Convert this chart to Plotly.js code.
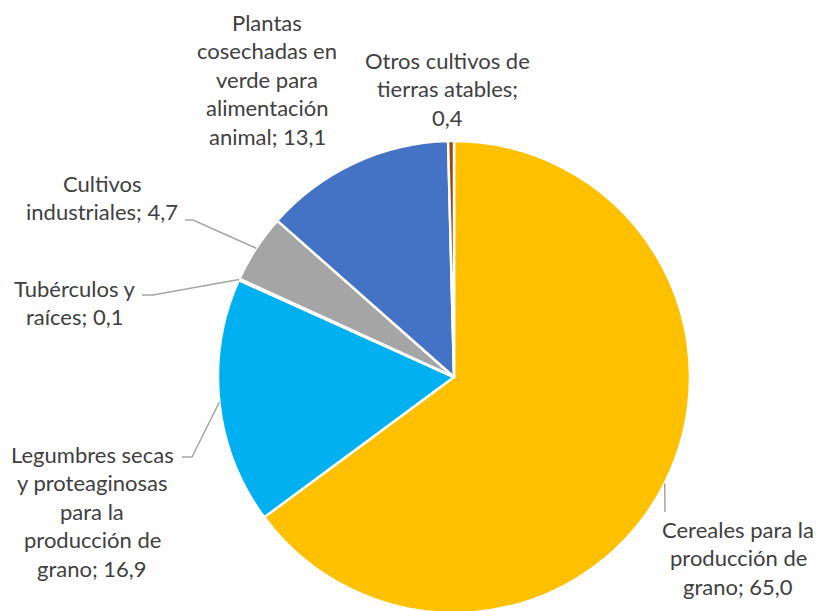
<!DOCTYPE html>
<html><head><meta charset="utf-8">
<script src="https://cdn.plot.ly/plotly-3.0.1.min.js"></script>
<style>html,body{margin:0;padding:0;overflow:hidden;background:#fff}#chart{width:820px;height:614px}</style>
</head><body><div id="chart"></div>
<script>
// ---- data ----
const categories = [
  "Cereales para la producción de grano",
  "Legumbres secas y proteaginosas para la producción de grano",
  "Tubérculos y raíces",
  "Cultivos industriales",
  "Plantas cosechadas en verde para alimentación animal",
  "Otros cultivos de tierras atables"
];
const values = [65.0, 16.9, 0.1, 4.7, 13.1, 0.4];
const colors = ["#FFC000", "#00B0F0", "#264478", "#A5A5A5", "#4472C4", "#9E480E"];

// ---- layout constants (pixels) ----
const W = 820, H = 614, CX = 454, CY = 377, R = 236, LH = 28.6;
const wordsPerLine = [[3,2,2],[2,2,2,2,2],[2,2],[1,2],[1,2,2,1,2],[3,2,1]];
const labelPos = [[738,529],[92,454],[74,288],[102,183],[267,22],[447,60]];
const leaderStart = [[[665,512]], [[182,457],[192,457]], [[142,295],[153,295]], [[185,220],[193,220]], null, null];

const px = x => x / W, py = y => (H - y) / H;
const fmt = v => v.toFixed(1).replace('.', ',');

const annotations = [];
const shapes = [];
const total = values.reduce((a,b)=>a+b,0);
let cum = 0;
values.forEach((v,i) => {
  const words = (categories[i] + '; ' + fmt(v)).split(' ');
  let k = 0;
  wordsPerLine[i].forEach((n,j) => {
    const line = words.slice(k, k+n).join(' '); k += n;
    annotations.push({
      text: line, xref:'paper', yref:'paper', showarrow:false,
      x: px(labelPos[i][0]), y: py(labelPos[i][1] + j*LH),
      xanchor:'center', yanchor:'middle',
      font:{family:'Lato, "Open Sans", sans-serif', size:22, color:'#404040'}
    });
  });
  const mid = (cum + v/2) / total * 2 * Math.PI;
  cum += v;
  if (leaderStart[i]) {
    const ex = CX + R*Math.sin(mid), ey = CY - R*Math.cos(mid);
    const pts = leaderStart[i].concat([[ex,ey]]);
    const path = pts.map((p,j)=> (j?'L':'M') + px(p[0]) + ',' + py(p[1])).join(' ');
    shapes.push({type:'path', xref:'paper', yref:'paper', path: path,
      line:{color:'#A6A6A6', width:1.5}});
  }
});

const trace = {
  type:'pie', values: values, labels: categories, sort:false,
  direction:'clockwise', rotation:0, textinfo:'none', hoverinfo:'skip',
  marker:{colors: colors, line:{color:'#FFFFFF', width:2.5}},
  domain:{x:[(CX-R)/W,(CX+R)/W], y:[(H-CY-R)/H,(H-CY+R)/H]},
  showlegend:false
};

Plotly.newPlot('chart', [trace], {
  width: W, height: H, margin:{l:0,r:0,t:0,b:0},
  paper_bgcolor:'#FFFFFF', showlegend:false,
  annotations: annotations, shapes: shapes
}, {staticPlot:true});
</script></body></html>
